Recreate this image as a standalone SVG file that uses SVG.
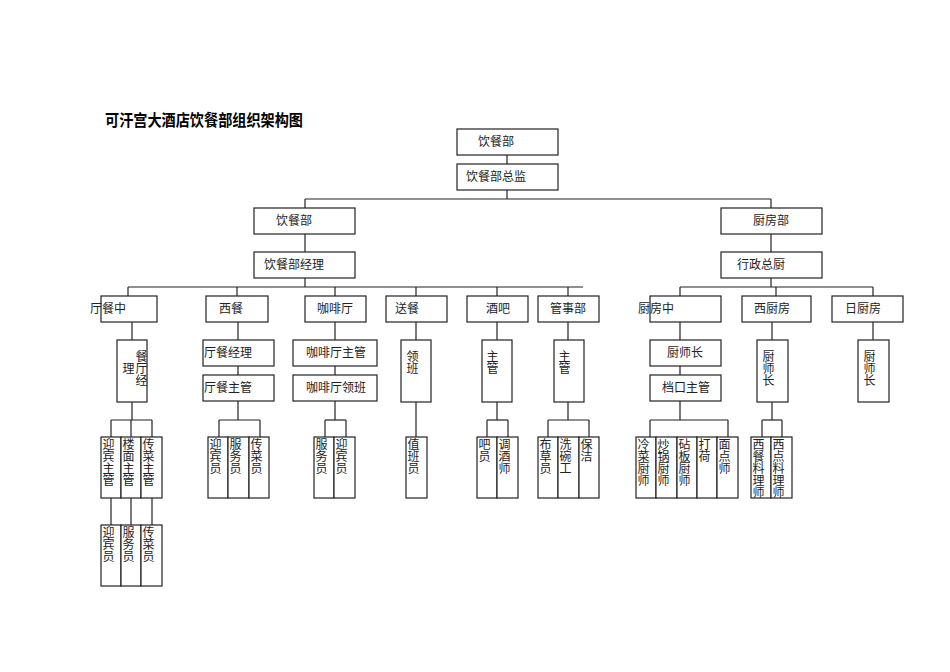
<svg xmlns="http://www.w3.org/2000/svg" width="950" height="672" viewBox="0 0 950 672">
<style>
rect{fill:#fff;stroke:#222;stroke-width:1.2}
text{font-family:"Liberation Serif","Noto Sans CJK SC",serif;font-size:12px;fill:#222}
.v{writing-mode:tb;glyph-orientation-vertical:0}
.t{font-family:"Liberation Sans","Noto Sans CJK SC",sans-serif;font-size:16px;font-weight:bold;fill:#000}
#c line{stroke:#222;stroke-width:1.2}
</style>
<text class="t" x="105" y="126" textLength="198" lengthAdjust="spacingAndGlyphs">可汗宫大酒店饮餐部组织架构图</text>
<g id="c">
<line x1="507" y1="155" x2="507" y2="164"/><line x1="507" y1="190" x2="507" y2="199"/>
<line x1="305" y1="199" x2="771" y2="199"/><line x1="305" y1="199" x2="305" y2="208"/><line x1="771" y1="199" x2="771" y2="208"/>
<line x1="305" y1="234" x2="305" y2="252"/><line x1="771" y1="234" x2="771" y2="252"/>
<line x1="305" y1="278" x2="305" y2="287"/><line x1="771" y1="278" x2="771" y2="287"/>
<line x1="128" y1="287" x2="583" y2="287"/>
<line x1="128" y1="287" x2="128" y2="296"/><line x1="237" y1="287" x2="237" y2="296"/><line x1="335" y1="287" x2="335" y2="296"/><line x1="416" y1="287" x2="416" y2="296"/><line x1="497" y1="287" x2="497" y2="296"/><line x1="568" y1="287" x2="568" y2="296"/>
<line x1="680" y1="287" x2="873" y2="287"/><line x1="680" y1="287" x2="680" y2="296"/><line x1="776" y1="287" x2="776" y2="296"/><line x1="873" y1="287" x2="873" y2="296"/>
<line x1="132" y1="322" x2="132" y2="340"/><line x1="238" y1="322" x2="238" y2="340"/><line x1="238" y1="366" x2="238" y2="375"/>
<line x1="335" y1="322" x2="335" y2="340"/><line x1="335" y1="366" x2="335" y2="375"/>
<line x1="416" y1="322" x2="416" y2="340"/><line x1="497" y1="322" x2="497" y2="340"/><line x1="568" y1="322" x2="568" y2="340"/>
<line x1="680" y1="322" x2="680" y2="340"/><line x1="680" y1="366" x2="680" y2="375"/>
<line x1="772" y1="322" x2="772" y2="340"/><line x1="873" y1="322" x2="873" y2="340"/>
<line x1="132" y1="402" x2="132" y2="420"/><line x1="111" y1="420" x2="152" y2="420"/><line x1="111" y1="420" x2="111" y2="437"/><line x1="131" y1="420" x2="131" y2="437"/><line x1="152" y1="420" x2="152" y2="437"/>
<line x1="111" y1="498" x2="111" y2="525"/><line x1="131" y1="498" x2="131" y2="525"/><line x1="152" y1="498" x2="152" y2="525"/>
<line x1="238" y1="401" x2="238" y2="420"/><line x1="219" y1="420" x2="260" y2="420"/><line x1="219" y1="420" x2="219" y2="437"/><line x1="260" y1="420" x2="260" y2="437"/>
<line x1="335" y1="401" x2="335" y2="420"/><line x1="325" y1="420" x2="346" y2="420"/><line x1="325" y1="420" x2="325" y2="437"/><line x1="346" y1="420" x2="346" y2="437"/>
<line x1="416" y1="402" x2="416" y2="437"/>
<line x1="497" y1="402" x2="497" y2="420"/><line x1="487" y1="420" x2="508" y2="420"/><line x1="487" y1="420" x2="487" y2="437"/><line x1="508" y1="420" x2="508" y2="437"/>
<line x1="568" y1="402" x2="568" y2="420"/><line x1="548" y1="420" x2="589" y2="420"/><line x1="548" y1="420" x2="548" y2="437"/><line x1="589" y1="420" x2="589" y2="437"/>
<line x1="680" y1="401" x2="680" y2="420"/><line x1="650" y1="420" x2="728" y2="420"/><line x1="650" y1="420" x2="650" y2="437"/><line x1="728" y1="420" x2="728" y2="437"/>
<line x1="772" y1="402" x2="772" y2="420"/><line x1="762" y1="420" x2="782" y2="420"/><line x1="762" y1="420" x2="762" y2="437"/><line x1="782" y1="420" x2="782" y2="437"/>
</g>
<g id="n1"><rect x="457" y="129" width="101" height="26"/><text x="478" y="146">饮餐部</text></g>
<g id="n2"><rect x="457" y="164" width="101" height="26"/><text x="466" y="181">饮餐部总监</text></g>
<g id="n3"><rect x="254" y="208" width="101" height="26"/><text x="276" y="225">饮餐部</text></g>
<g id="n4"><rect x="254" y="252" width="101" height="26"/><text x="264" y="269">饮餐部经理</text></g>
<g id="n5"><rect x="721" y="208" width="101" height="26"/><text x="753" y="225">厨房部</text></g>
<g id="n6"><rect x="721" y="252" width="101" height="26"/><text x="737" y="269">行政总厨</text></g>
<g id="r1"><rect x="101" y="296" width="56" height="26"/><text x="90" y="313">厅餐中</text></g>
<g id="r2"><rect x="206" y="296" width="62" height="26"/><text x="219" y="313">西餐</text></g>
<g id="r3"><rect x="305" y="296" width="61" height="26"/><text x="317" y="313">咖啡厅</text></g>
<g id="r4"><rect x="386" y="296" width="61" height="26"/><text x="395" y="313">送餐</text></g>
<g id="r5"><rect x="467" y="296" width="61" height="26"/><text x="486" y="313">酒吧</text></g>
<g id="r6"><rect x="538" y="296" width="61" height="26"/><text x="550" y="313">管事部</text></g>
<g id="r7"><rect x="650" y="296" width="71" height="26"/><text x="638" y="313">厨房中</text></g>
<g id="r8"><rect x="742" y="296" width="69" height="26"/><text x="754" y="313">西厨房</text></g>
<g id="r9"><rect x="832" y="296" width="71" height="26"/><text x="845" y="313">日厨房</text></g>
<g id="s1"><rect x="117" y="340" width="30" height="62"/><text class="v" x="140" y="350">餐厅经</text><text class="v" x="127" y="362">理</text></g>
<g id="s2"><rect x="203" y="340" width="71" height="26"/><text x="204" y="357">厅餐经理</text></g>
<g id="s3"><rect x="203" y="375" width="71" height="26"/><text x="204" y="392">厅餐主管</text></g>
<g id="s4"><rect x="293" y="340" width="84" height="26"/><text x="306" y="357">咖啡厅主管</text></g>
<g id="s5"><rect x="293" y="375" width="84" height="26"/><text x="306" y="392">咖啡厅领班</text></g>
<g id="s6"><rect x="401" y="340" width="30" height="62"/><text class="v" x="411" y="350">领班</text></g>
<g id="s7"><rect x="482" y="340" width="30" height="62"/><text class="v" x="491" y="350">主管</text></g>
<g id="s8"><rect x="554" y="340" width="30" height="62"/><text class="v" x="563" y="350">主管</text></g>
<g id="s9"><rect x="650" y="340" width="71" height="26"/><text x="667" y="357">厨师长</text></g>
<g id="s10"><rect x="650" y="375" width="71" height="26"/><text x="662" y="392">档口主管</text></g>
<g id="s11"><rect x="757" y="340" width="31" height="62"/><text class="v" x="767" y="350">厨师长</text></g>
<g id="s12"><rect x="858" y="340" width="31" height="62"/><text class="v" x="868" y="350">厨师长</text></g>
<g id="l1"><rect x="101" y="437" width="20" height="61"/><rect x="121" y="437" width="20" height="61"/><rect x="141" y="437" width="21" height="61"/>
<text class="v" x="107" y="438">迎宾主管</text><text class="v" x="127" y="438">楼面主管</text><text class="v" x="147" y="438">传菜主管</text></g>
<g id="l2"><rect x="101" y="525" width="20" height="61"/><rect x="121" y="525" width="20" height="61"/><rect x="141" y="525" width="21" height="61"/>
<text class="v" x="107" y="526">迎宾员</text><text class="v" x="127" y="526">服务员</text><text class="v" x="147" y="526">传菜员</text></g>
<g id="l3"><rect x="208" y="437" width="20" height="61"/><rect x="228" y="437" width="21" height="61"/><rect x="249" y="437" width="20" height="61"/>
<text class="v" x="214" y="438">迎宾员</text><text class="v" x="234" y="438">服务员</text><text class="v" x="255" y="438">传菜员</text></g>
<g id="l4"><rect x="314" y="437" width="20" height="61"/><rect x="334" y="437" width="21" height="61"/>
<text class="v" x="320" y="438">服务员</text><text class="v" x="340" y="438">迎宾员</text></g>
<g id="l5"><rect x="406" y="437" width="21" height="61"/><text class="v" x="412" y="438">值班员</text></g>
<g id="l6"><rect x="477" y="437" width="20" height="61"/><rect x="497" y="437" width="21" height="61"/>
<text class="v" x="483" y="438">吧员</text><text class="v" x="503" y="438">调酒师</text></g>
<g id="l7"><rect x="538" y="437" width="20" height="61"/><rect x="558" y="437" width="21" height="61"/><rect x="579" y="437" width="20" height="61"/>
<text class="v" x="544" y="438">布草员</text><text class="v" x="564" y="438">洗碗工</text><text class="v" x="585" y="438">保洁</text></g>
<g id="l8"><rect x="636" y="437" width="20" height="61"/><rect x="656" y="437" width="21" height="61"/><rect x="677" y="437" width="20" height="61"/><rect x="697" y="437" width="20" height="61"/><rect x="717" y="437" width="21" height="61"/>
<text class="v" x="642" y="438">冷菜厨师</text><text class="v" x="662" y="438">炒锅厨师</text><text class="v" x="683" y="438">砧板厨师</text><text class="v" x="703" y="438">打荷</text><text class="v" x="723" y="438">面点师</text></g>
<g id="l9"><rect x="751" y="437" width="20" height="61"/><rect x="771" y="437" width="21" height="61"/>
<text class="v" x="757" y="438">西餐料理师</text><text class="v" x="777" y="438">西点料理师</text></g>
</svg>
